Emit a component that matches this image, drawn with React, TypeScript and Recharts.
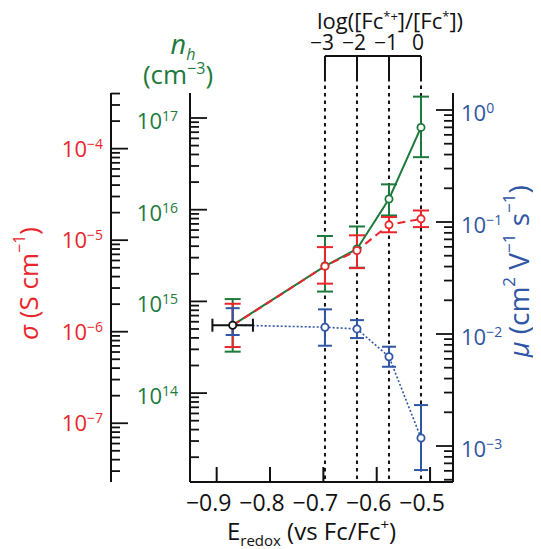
import React from 'react';
import { ComposedChart, Line, Scatter, XAxis, YAxis, ErrorBar, ReferenceLine } from 'recharts';

const FONT = '"Open Sans", "Noto Sans", "DejaVu Sans", sans-serif';
const RED = '#e8262b';
const GREEN = '#1c7a3c';
const BLUE = '#2f55a5';
const INK = '#111111';

// ---- data ----
const eRedox = [-0.87, -0.697, -0.637, -0.577, -0.517];
const eRedoxErr = 0.038;
const sigma = [1.17e-6, 5.2e-6, 7.7e-6, 1.47e-5, 1.71e-5];
const sigmaLow = [6.8e-7, 3.35e-6, 4.95e-6, 1.22e-5, 1.39e-5];
const sigmaHigh = [2.02e-6, 8.4e-6, 1.13e-5, 1.79e-5, 2.11e-5];
const nh = [5.5e14, 2.43e15, 3.73e15, 1.31e16, 7.9e16];
const nhLow = [2.83e14, 1.28e15, 2.33e15, 8.65e15, 3.74e16];
const nhHigh = [1.06e15, 5.17e15, 6.56e15, 1.89e16, 1.71e17];
const mu = [1.2e-2, 1.15e-2, 1.11e-2, 6.27e-3, 1.18e-3];
const muLow = [9.8e-3, 7.86e-3, 9.2e-3, 5.1e-3, 6.1e-4];
const muHigh = [1.7e-2, 1.66e-2, 1.33e-2, 7.7e-3, 2.32e-3];

// ---- axes ----
const eTicks = [-0.9, -0.8, -0.7, -0.6, -0.5];
const logRatioTicks = [-3, -2, -1, 0];
const E0 = -0.517; // E at log ratio = 0
const NERNST = 0.06; // V per decade
const sigmaDecades = [-8, -7, -6, -5, -4];
const nhDecades = [13, 14, 15, 16, 17];
const muDecades = [-4, -3, -2, -1, 0];
const minorSteps = [1, 2, 3, 4, 5, 6, 7, 8, 9];

const eDomain = [-0.95, -0.457];
const toLogRatio = (e: number) => (e - E0) / NERNST;
const topDomain = [toLogRatio(eDomain[0]), toLogRatio(eDomain[1])];
const sigmaDomain = [Math.pow(10, -7.642), Math.pow(10, -3.392)];
const nhDomain = [Math.pow(10, 13.0305), Math.pow(10, 17.2726)];
const muDomain = [Math.pow(10, -3.3214), Math.pow(10, 0.1518)];
const bracketLevel = Math.pow(10, 17.676);
const guideTop = Math.pow(10, 17.436);

const rows = eRedox.map((e, i) => ({
  e,
  L: toLogRatio(e),
  s: sigma[i],
  sErr: [sigma[i] - sigmaLow[i], sigmaHigh[i] - sigma[i]],
  n: nh[i],
  nErr: [nh[i] - nhLow[i], nhHigh[i] - nh[i]],
  mu: mu[i],
  muErr: [mu[i] - muLow[i], muHigh[i] - mu[i]],
}));
const origin = [{ e: eRedox[0], n: nh[0], eErr: eRedoxErr }];

function logTicks(decades: number[], dom: number[]) {
  const out: number[] = [];
  decades.forEach((d) =>
    minorSteps.forEach((k) => {
      const v = k * Math.pow(10, d);
      if (v >= dom[0] && v <= dom[1]) out.push(v);
    })
  );
  return out;
}

const minus = (s: string) => s.replace('-', '\u2212');

function makeLogTick(side: 'left' | 'right', color: string, gap: number, baseDy: number) {
  return (props: any) => {
    const { x, y, payload } = props;
    const v = payload.value;
    const lg = Math.log10(v);
    const exp = Math.round(lg);
    const major = Math.abs(lg - exp) < 1e-6;
    const dir = side === 'left' ? 1 : -1;
    const len = major ? 17 : 9;
    return (
      <g>
        <line x1={x} y1={y} x2={x + dir * len} y2={y} stroke={INK} strokeWidth={1.8} />
        {major && (
          <text
            x={side === 'left' ? x - gap : x + gap}
            y={y + baseDy}
            textAnchor={side === 'left' ? 'end' : 'start'}
            fill={color}
            fontFamily={FONT}
            fontSize={22}
          >
            10<tspan dy={-8} fontSize={14}>{minus(String(exp))}</tspan>
          </text>
        )}
      </g>
    );
  };
}

const BottomTick = (props: any) => {
  const { x, y, payload } = props;
  return (
    <g>
      <line x1={x} y1={y} x2={x} y2={y - 15} stroke={INK} strokeWidth={2} />
      <text x={x - 8} y={y + 29} textAnchor="middle" fontFamily={FONT} fontSize={23} fill={INK}>
        {minus(payload.value.toFixed(1))}
      </text>
    </g>
  );
};

const TopTick = (props: any) => {
  const { x, y, payload } = props;
  return (
    <g>
      <line x1={x} y1={y - 37} x2={x} y2={y - 15} stroke={INK} strokeWidth={2} />
      <text x={x - 3} y={y - 43} textAnchor="middle" fontFamily={FONT} fontSize={21} fill={INK}>
        {minus(String(payload.value))}
      </text>
    </g>
  );
};

const SigmaLabel = (props: any) => {
  const vb = props.viewBox;
  const cx = vb.x + 20;
  const cy = vb.y + vb.height / 2 - 4;
  return (
    <text transform={`rotate(-90 ${cx} ${cy})`} x={cx} y={cy} textAnchor="middle" dominantBaseline="central" fill={RED} fontFamily={FONT} fontSize={26}>
      <tspan fontStyle="italic">σ</tspan> (S cm<tspan dy={-9} fontSize={16}>−1</tspan>
      <tspan dy={9}>)</tspan>
    </text>
  );
};

const MuLabel = (props: any) => {
  const vb = props.viewBox;
  const cx = vb.x + 65;
  const cy = vb.y + vb.height / 2 - 16;
  return (
    <text transform={`rotate(-90 ${cx} ${cy})`} x={cx} y={cy} textAnchor="middle" dominantBaseline="central" fill={BLUE} fontFamily={FONT} fontSize={28}>
      <tspan fontStyle="italic">μ</tspan> (cm<tspan dy={-10} fontSize={17}>2</tspan>
      <tspan dy={10}> V</tspan>
      <tspan dy={-10} fontSize={17}>−1</tspan>
      <tspan dy={10}> s</tspan>
      <tspan dy={-10} fontSize={17}>−1</tspan>
      <tspan dy={10}>)</tspan>
    </text>
  );
};

const NhLabel = (props: any) => {
  const vb = props.viewBox;
  const ax = vb.x + vb.width;
  return (
    <g>
      <text x={ax - 7} y={vb.y - 39} textAnchor="middle" fill={GREEN} fontFamily={FONT} fontSize={27}>
        <tspan fontStyle="italic">n</tspan>
        <tspan fontStyle="italic" dy={6} fontSize={16}>h</tspan>
      </text>
      <text x={ax - 12} y={vb.y - 9} textAnchor="middle" fill={GREEN} fontFamily={FONT} fontSize={26}>
        (cm<tspan dy={-10} fontSize={16}>−3</tspan>
        <tspan dy={10}>)</tspan>
      </text>
    </g>
  );
};

const XTitle = (props: any) => {
  const vb = props.viewBox;
  return (
    <text x={vb.x + vb.width / 2 - 10} y={vb.y + 58} textAnchor="middle" fill={INK} fontFamily={FONT} fontSize={24}>
      E<tspan dy={6} fontSize={15}>redox</tspan>
      <tspan dy={-6}> (vs Fc/Fc</tspan>
      <tspan dy={-10} fontSize={15}>+</tspan>
      <tspan dy={10}>)</tspan>
    </text>
  );
};

const TopTitle = (props: any) => {
  const vb = props.viewBox;
  return (
    <text x={vb.x + 200} y={vb.y + 21} textAnchor="middle" fill={INK} fontFamily={FONT} fontSize={22}>
      log([Fc<tspan dy={-8} fontSize={13}>*+</tspan>
      <tspan dy={8}>]/[Fc</tspan>
      <tspan dy={-8} fontSize={13}>*</tspan>
      <tspan dy={8}>])</tspan>
    </text>
  );
};

const makeDot = (color: string) => (props: any) => {
  const { cx, cy, index } = props;
  if (index === 0 || cx == null || cy == null) return <g key={`d${index}`} />;
  return <circle key={`d${index}`} cx={cx} cy={cy} r={3.6} fill="#fff" stroke={color} strokeWidth={1.8} />;
};

const axisLine = { stroke: INK, strokeWidth: 2 };

export default function App() {
  return (
    <ComposedChart width={533} height={541} data={rows} margin={{ top: 0, right: 0, bottom: 0, left: 0 }}>
      <XAxis
        xAxisId="bottom"
        dataKey="e"
        type="number"
        domain={eDomain}
        allowDataOverflow
        ticks={eTicks}
        interval={0}
        height={67}
        tickSize={0}
        tickMargin={0}
        tickLine={false}
        axisLine={axisLine}
        tick={BottomTick}
        label={XTitle}
      />
      <XAxis
        xAxisId="top"
        dataKey="L"
        orientation="top"
        type="number"
        domain={topDomain}
        allowDataOverflow
        ticks={logRatioTicks}
        interval={0}
        height={85}
        tickSize={0}
        tickMargin={0}
        tickLine={false}
        axisLine={false}
        tick={TopTick}
        label={TopTitle}
      />
      <YAxis
        yAxisId="n"
        dataKey="n"
        orientation="left"
        type="number"
        scale="log"
        domain={nhDomain}
        allowDataOverflow
        ticks={logTicks(nhDecades, nhDomain)}
        interval={0}
        width={79}
        tickSize={0}
        tickMargin={0}
        tickLine={false}
        axisLine={axisLine}
        tick={makeLogTick('left', GREEN, 12, 11)}
        label={NhLabel}
      />
      <YAxis
        yAxisId="s"
        dataKey="s"
        orientation="left"
        type="number"
        scale="log"
        domain={sigmaDomain}
        allowDataOverflow
        ticks={logTicks(sigmaDecades, sigmaDomain)}
        interval={0}
        width={103}
        tickSize={0}
        tickMargin={0}
        tickLine={false}
        axisLine={axisLine}
        tick={makeLogTick('left', RED, 8, 8)}
        label={SigmaLabel}
      />
      <YAxis
        yAxisId="mu"
        dataKey="mu"
        orientation="right"
        type="number"
        scale="log"
        domain={muDomain}
        allowDataOverflow
        ticks={logTicks(muDecades, muDomain)}
        interval={0}
        width={88}
        tickSize={0}
        tickMargin={0}
        tickLine={false}
        axisLine={axisLine}
        tick={makeLogTick('right', BLUE, 8, 11)}
        label={MuLabel}
      />

      {logRatioTicks.map((L) => (
        <ReferenceLine
          key={`g${L}`}
          xAxisId="top"
          yAxisId="n"
          ifOverflow="visible"
          segment={[{ x: L, y: guideTop }, { x: L, y: nhDomain[0] }]}
          stroke={INK}
          strokeWidth={2}
          strokeDasharray="3.5 4"
        />
      ))}
      <ReferenceLine
        xAxisId="top"
        yAxisId="n"
        ifOverflow="visible"
        segment={[{ x: logRatioTicks[0], y: bracketLevel }, { x: logRatioTicks[logRatioTicks.length - 1], y: bracketLevel }]}
        stroke={INK}
        strokeWidth={2}
      />

      <Line xAxisId="bottom" yAxisId="n" dataKey="n" stroke={GREEN} strokeWidth={2} dot={makeDot(GREEN)} activeDot={false} isAnimationActive={false}>
        <ErrorBar dataKey="nErr" direction="y" width={8} stroke={GREEN} strokeWidth={2} isAnimationActive={false} />
      </Line>
      <Line xAxisId="bottom" yAxisId="s" dataKey="s" stroke={RED} strokeWidth={2} strokeDasharray="8 5" dot={makeDot(RED)} activeDot={false} isAnimationActive={false}>
        <ErrorBar dataKey="sErr" direction="y" width={8} stroke={RED} strokeWidth={2} isAnimationActive={false} />
      </Line>
      <Line xAxisId="bottom" yAxisId="mu" dataKey="mu" stroke={BLUE} strokeWidth={1.6} strokeDasharray="2 2" dot={makeDot(BLUE)} activeDot={false} isAnimationActive={false}>
        <ErrorBar dataKey="muErr" direction="y" width={7} stroke={BLUE} strokeWidth={2} isAnimationActive={false} />
      </Line>
      <Scatter
        xAxisId="bottom"
        yAxisId="n"
        data={origin}
        dataKey="n"
        isAnimationActive={false}
        shape={(p: any) => <circle cx={p.cx} cy={p.cy} r={3.6} fill="#fff" stroke={INK} strokeWidth={1.8} />}
      >
        <ErrorBar dataKey="eErr" direction="x" width={6.5} stroke={INK} strokeWidth={2} isAnimationActive={false} />
      </Scatter>
    </ComposedChart>
  );
}
